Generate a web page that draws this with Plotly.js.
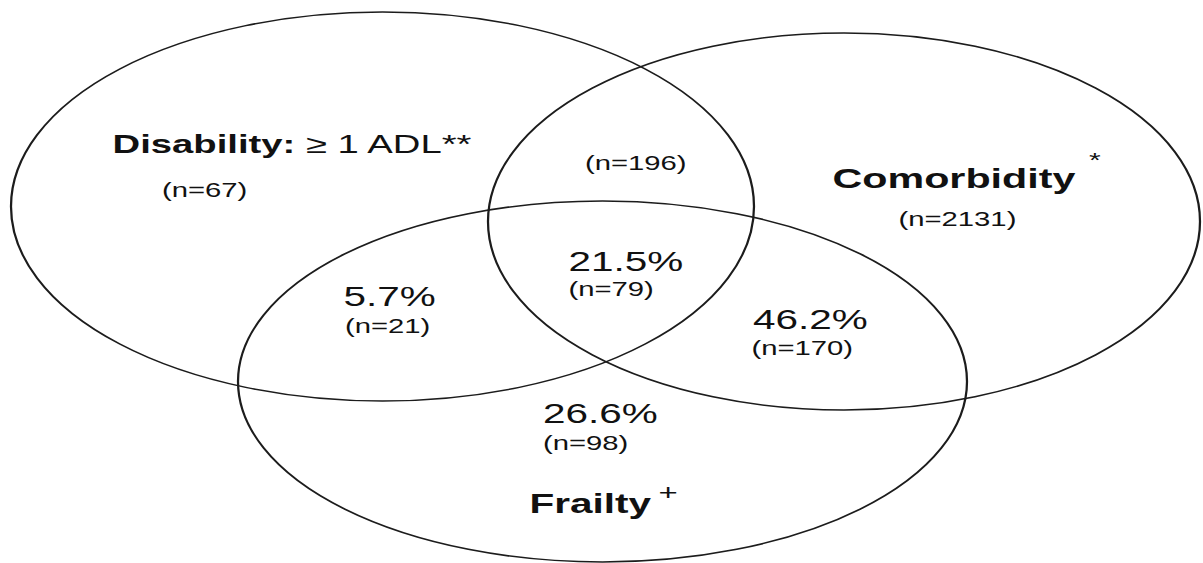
<!DOCTYPE html>
<html>
<head>
<meta charset="utf-8">
<script src="https://cdn.plot.ly/plotly-3.0.1.min.js"></script>
<style>
  html, body { margin: 0; padding: 0; background: #fff; overflow: hidden; }
  #wrap { width: 1203px; height: 563px; overflow: hidden; }
  #chart { transform-origin: 0 0; }
</style>
</head>
<body>
<div id="wrap"><div id="chart"></div></div>
<script>
// ---- data ----
var setNames = ["Disability", "Comorbidity", "Frailty"];
var setTitles = ["<b>Disability:</b> \u2265 1 ADL**", "<b>Comorbidity</b>", "<b>Frailty</b>"];
var setMarks = ["", "*", "+"];
var setOnlyCounts = ["(n=67)", "(n=2131)", ""];
var regionPct = ["5.7%", "21.5%", "46.2%", "26.6%"];
var regionCounts = ["(n=21)", "(n=79)", "(n=170)", "(n=98)"];
var discomCount = "(n=196)";

// ---- layout geometry (image pixel space) ----
var W = 1203, H = 563, SX = 1.5;
var ell = [
  {x0: 11,  x1: 754,  y0: 12,  y1: 401},
  {x0: 488, x1: 1200, y0: 33,  y1: 410},
  {x0: 238, x1: 967,  y0: 201, y1: 562}
];
var titlePos = [{x: 291, y: 144, s: 25.5}, {x: 954, y: 178, s: 27.5}, {x: 590, y: 504, s: 27}];
var markPos  = [null, {x: 1095, y: 160, s: 20}, {x: 668, y: 492, s: 22}];
var onlyPos  = [{x: 205, y: 190}, {x: 957, y: 219}, null];
var pctPos   = [{x: 390, y: 297}, {x: 626, y: 262}, {x: 810, y: 320}, {x: 600, y: 414}];
var cntPos   = [{x: 388, y: 326}, {x: 611, y: 289}, {x: 803, y: 348}, {x: 585, y: 443}];
var discomPos = {x: 636, y: 163};

var FONT = "Liberation Sans, Arial, Helvetica, sans-serif";
var INK = "#111111";

var shapes = ell.map(function (e) {
  return {type: "circle", xref: "x", yref: "y", x0: e.x0, x1: e.x1, y0: e.y0, y1: e.y1,
          line: {color: "#1c1c1c", width: 1.5}, fillcolor: "rgba(0,0,0,0)"};
});

var ann = [];
function add(text, p, size) {
  ann.push({x: p.x, y: p.y, xref: "x", yref: "y", text: text, showarrow: false,
            xanchor: "center", yanchor: "middle",
            font: {family: FONT, size: size, color: INK}});
}
for (var i = 0; i < setTitles.length; i++) {
  add(setTitles[i], titlePos[i], titlePos[i].s);
  if (setMarks[i]) add(setMarks[i], markPos[i], markPos[i].s);
  if (setOnlyCounts[i]) add(setOnlyCounts[i], onlyPos[i], 19.5);
}
for (var j = 0; j < regionPct.length; j++) {
  add(regionPct[j], pctPos[j], 27);
  add(regionCounts[j], cntPos[j], 19.5);
}
add(discomCount, discomPos, 19.5);

var chart = document.getElementById("chart");
chart.style.width = (W / SX) + "px";
chart.style.height = H + "px";
chart.style.transform = "scaleX(" + SX + ")";

Plotly.newPlot(chart, [], {
  width: W / SX, height: H,
  margin: {l: 0, r: 0, t: 0, b: 0, pad: 0},
  paper_bgcolor: "#ffffff", plot_bgcolor: "#ffffff",
  xaxis: {range: [0, W], visible: false, fixedrange: true},
  yaxis: {range: [H, 0], visible: false, fixedrange: true},
  shapes: shapes, annotations: ann, showlegend: false
}, {staticPlot: true, displayModeBar: false});
</script>
</body>
</html>
